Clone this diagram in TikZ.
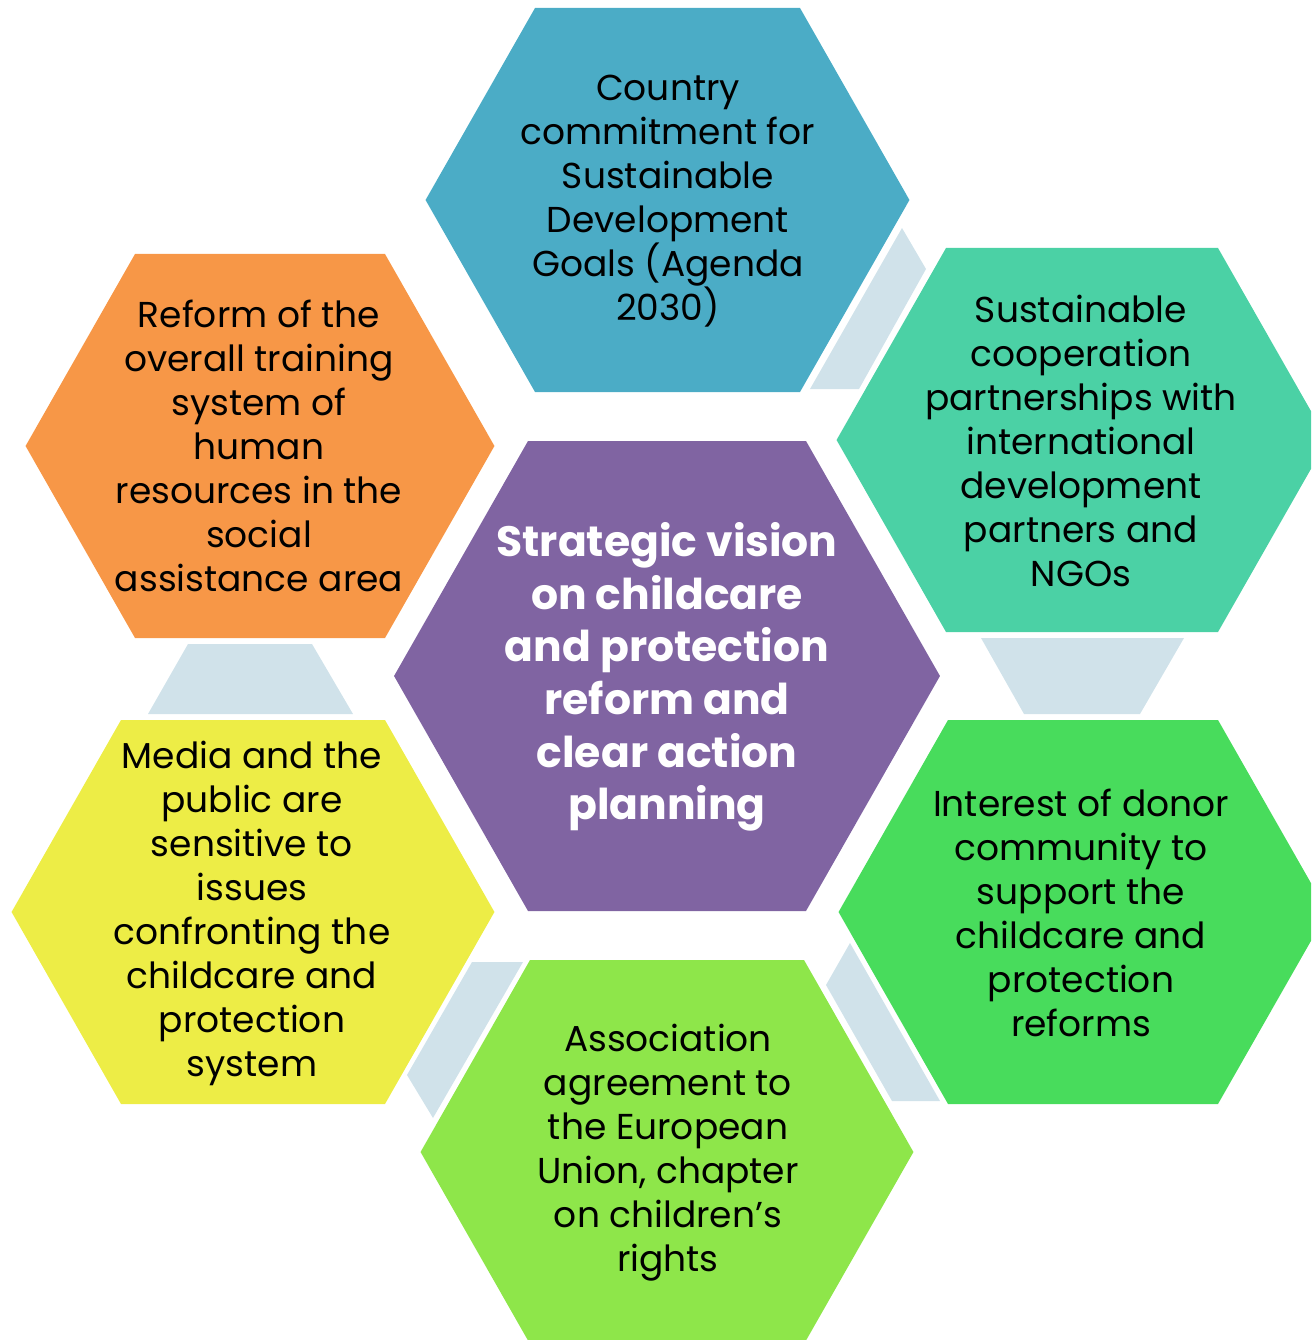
\documentclass[tikz,border=0pt]{standalone}
\usepackage{fontspec}
\setmainfont{Poppins}
\usepackage{tikz}
\usetikzlibrary{calc}
\definecolor{hexblue}{HTML}{4BACC6}
\definecolor{hexteal}{HTML}{4BD1A5}
\definecolor{hexgreen}{HTML}{48DC5C}
\definecolor{hexlime}{HTML}{8EE64A}
\definecolor{hexyellow}{HTML}{EDED46}
\definecolor{hexorange}{HTML}{F79747}
\definecolor{hexpurple}{HTML}{8064A2}
\definecolor{linkgrey}{HTML}{D0E2EA}
\def\hexcell[#1](#2,#3)(#4:#5){\fill[#1] ({#2-#4-0.57*#5},#3) -- ({#2-#4},{#3-#5}) -- ({#2+#4},{#3-#5}) -- ({#2+#4+0.57*#5},#3) -- ({#2+#4},{#3+#5}) -- ({#2-#4},{#3+#5}) -- cycle;}
\tikzset{
  celltext/.style={align=center, inner sep=0pt, font=\fontsize{36}{44}\selectfont},
  hubtext/.style={align=center, inner sep=0pt, text=white, font=\bfseries\fontsize{42.5}{52.6}\selectfont}
}

\begin{document}
\begin{tikzpicture}[x=1pt, y=-1pt]
			%%%%% START %%%%%
			
			\useasboundingbox (0, 0) rectangle (1311, 1340);
			\clip (0, 0) rectangle (1311, 1340);
			
			\hexcell[hexblue](667.5,200)(132.5:192)
			\hexcell[hexteal](1082,440)(136:192)
			\hexcell[hexgreen](1083,912)(135:192)
			\hexcell[hexlime](667,1152)(137:192)
			\hexcell[hexyellow](253,912)(132:192)
			\hexcell[hexorange](260,446)(125:192)
			\hexcell[hexpurple](667,676)(139:235)
			
			\fill[linkgrey] (810, 389) -- (902, 228) -- (926, 269) -- (859, 389) -- cycle;
			\fill[linkgrey] (981, 638) -- (1184, 638) -- (1140, 714) -- (1024, 714) -- cycle;
			\fill[linkgrey] (850, 943) -- (940, 1101) -- (892, 1101) -- (826, 985) -- cycle;
			\fill[linkgrey] (472, 962) -- (523, 962) -- (433, 1118) -- (407, 1075) -- cycle;
			\fill[linkgrey] (188, 644) -- (312, 644) -- (353, 714) -- (148, 714) -- cycle;
			
			\node[celltext] (goals) at (668, 201) {Country\\commitment for\\Sustainable\\Development\\Goals (Agenda\\2030)};
			\node[celltext] (partners) at (1081, 441) {Sustainable\\cooperation\\partnerships with\\international\\development\\partners and\\NGOs};
			\node[celltext] (donors) at (1081, 913) {Interest of donor\\community to\\support the\\childcare and\\protection\\reforms};
			\node[celltext] (union) at (668, 1153) {Association\\agreement to\\the European\\Union, chapter\\on children’s\\rights};
			\node[celltext] (media) at (252, 913) {Media and the\\public are\\sensitive to\\issues\\confronting the\\childcare and\\protection\\system};
			\node[celltext] (training) at (259, 446) {Reform of the\\overall training\\system of\\human\\resources in the\\social\\assistance area};
			\node[hubtext] (vision) at (667, 677) {Strategic vision\\on childcare\\and protection\\reform and\\clear action\\planning};
			
			%%%%% END %%%%%
\end{tikzpicture}
\end{document}
